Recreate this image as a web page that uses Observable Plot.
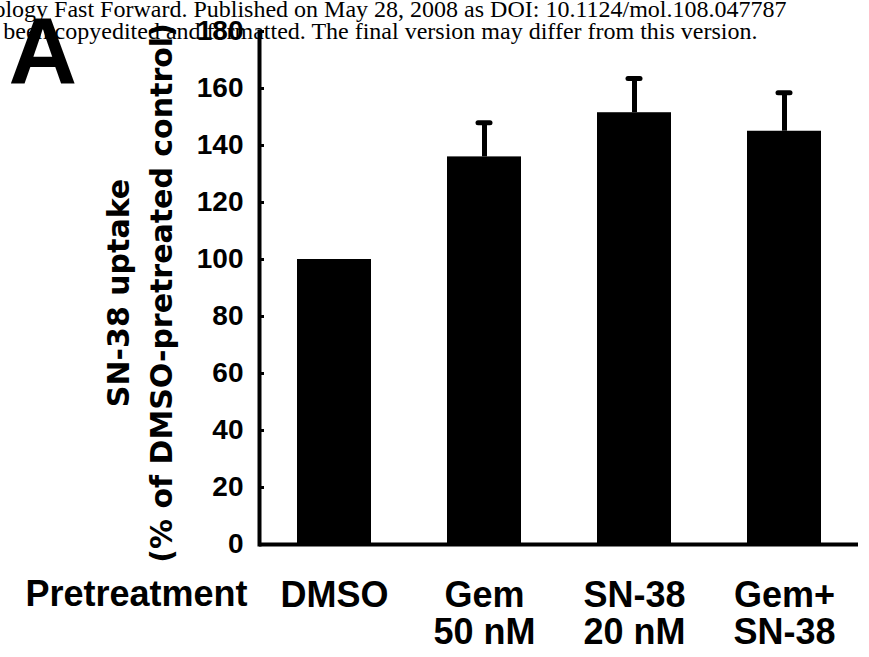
<!DOCTYPE html>
<html>
<head>
<meta charset="utf-8">
<script src="https://cdn.jsdelivr.net/npm/d3@7"></script>
<script src="https://cdn.jsdelivr.net/npm/@observablehq/plot@0.6"></script>
<style>
  html, body { margin: 0; padding: 0; background: #fff; }
  #chart { width: 869px; height: 657px; overflow: hidden; }
</style>
</head>
<body>
<div id="chart"></div>
<script>
// ---- data ----
const categories = ["DMSO", "Gem\n50 nM", "SN-38\n20 nM", "Gem+\nSN-38"];
const uptake = [100, 136, 151.5, 145];
const errorUp = [0, 12, 12, 13.5];
const yTicks = [0, 20, 40, 60, 80, 100, 120, 140, 160, 180];
const yTitle1 = "SN-38 uptake";
const yTitle2 = "(% of DMSO-pretreated control)";
const xRowLabel = "Pretreatment";
const panelLabel = "A";
const watermark1 = "Molecular Pharmacology Fast Forward. Published on May 28, 2008 as DOI: 10.1124/mol.108.047787";
const watermark2 = "This article has not been copyedited and formatted. The final version may differ from this version.";

const rows = categories.map((c, i) => ({cat: c, v: uptake[i], e: errorUp[i]}));
const errRows = rows.filter(d => d.e > 0);

const sans = "'Liberation Sans', Arial, Helvetica, sans-serif";
const wide = "'DejaVu Sans', 'Liberation Sans', Arial, sans-serif";
const serif = "'Liberation Serif', 'Times New Roman', serif";

const plot = Plot.plot({
  width: 869,
  height: 657,
  marginLeft: 259,
  marginRight: 11,
  marginTop: 31,
  marginBottom: 113,
  style: {fontFamily: sans, fontWeight: "bold", color: "#000", background: "#fff", overflow: "visible"},
  x: {domain: categories, paddingInner: 0.51, paddingOuter: 0.25, label: null},
  y: {domain: [0, 180], label: null},
  marks: [
    // watermark header (serif), right-aligned so the cut-off start falls off the left edge
    Plot.text([watermark1], {frameAnchor: "top-right", text: d => d, textAnchor: "end", lineAnchor: "bottom",
      dx: -72, dy: -15, fontSize: 24, fontFamily: serif, fontWeight: "normal", fill: "#000"}),
    Plot.text([watermark2], {frameAnchor: "top-right", text: d => d, textAnchor: "end", lineAnchor: "bottom",
      dx: -101, dy: 7, fontSize: 24, fontFamily: serif, fontWeight: "normal", fill: "#000"}),
    // panel letter
    Plot.text([panelLabel], {frameAnchor: "top-left", text: d => d, textAnchor: "start", lineAnchor: "bottom",
      dx: -251, dy: 52, fontSize: 95, fontWeight: "bold", fill: "#000"}),
    // bars
    Plot.barY(rows, {x: "cat", y: "v", fill: "#000"}),
    // error bars (upper only)
    Plot.ruleX(errRows, {x: "cat", y1: "v", y2: d => d.v + d.e, stroke: "#000", strokeWidth: 5}),
    Plot.tickY(errRows, {x: "cat", y: d => d.v + d.e, stroke: "#000", strokeWidth: 5, strokeLinecap: "round",
      insetLeft: 31, insetRight: 31}),
    // axes lines
    Plot.frame({anchor: "left", stroke: "#000", strokeWidth: 4}),
    Plot.ruleY([0], {stroke: "#000", strokeWidth: 4}),
    // y axis: inward ticks + labels
    Plot.axisY({ticks: yTicks, tickSize: -5, tickPadding: 21, fontSize: 28, strokeWidth: 3, tickFormat: d => d}),
    // x axis labels (two lines)
    Plot.axisX({tickSize: 0, tickPadding: 36, fontSize: 36, lineHeight: 1.03}),
    // row label
    Plot.text([xRowLabel], {frameAnchor: "bottom-left", text: d => d, textAnchor: "end", lineAnchor: "top",
      dx: -12, dy: 36, fontSize: 36, fontWeight: "bold", fill: "#000"}),
    // y axis title, two rotated lines
    Plot.text([yTitle1], {frameAnchor: "left", text: d => d, rotate: -90, textAnchor: "middle", lineAnchor: "bottom",
      dx: -131, dy: 5, fontSize: 30, fontFamily: wide, fontWeight: "bold", fill: "#000"}),
    Plot.text([yTitle2], {frameAnchor: "left", text: d => d, rotate: -90, textAnchor: "middle", lineAnchor: "bottom",
      dx: -88, dy: 5, fontSize: 30, fontFamily: wide, fontWeight: "bold", fill: "#000"})
  ]
});

document.getElementById("chart").appendChild(plot);
</script>
</body>
</html>
